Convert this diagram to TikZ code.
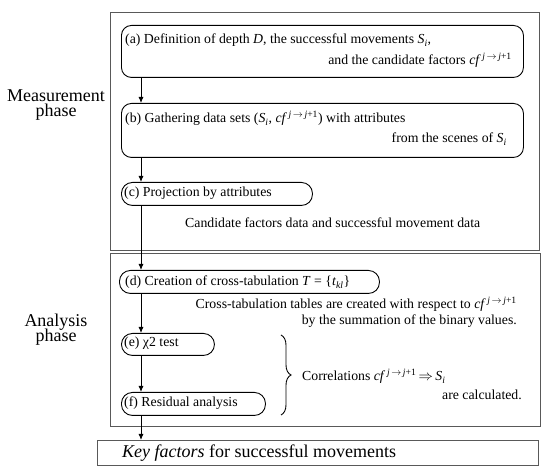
\documentclass[tikz,border=0pt]{standalone}
\usepackage{fontspec}
\setmainfont{Liberation Serif}
\usetikzlibrary{arrows.meta,decorations.pathreplacing}
\newcommand{\cfjj}{\textit{cf}\textsuperscript{\,\textit{j}\,$\rightarrow$\,\textit{j}+1}}
\newcommand{\Sind}{\textit{S}\textsubscript{\textit{i}}}
\begin{document}
\begin{tikzpicture}[x=1pt,y=-1pt,
  frame/.style={draw=black!65, line width=1.3pt, anchor=north west, inner sep=0pt},
  rbox/.style={draw, line width=0.9pt, rounded corners=10pt, anchor=north west, inner sep=0pt},
  pill/.style={draw, line width=0.9pt, rounded corners=11pt, anchor=north west, inner sep=0pt},
  txt/.style={font=\fontsize{13.8}{16}\selectfont, inner sep=0pt, anchor=base west},
  rtxt/.style={font=\fontsize{13.8}{16}\selectfont, inner sep=0pt, anchor=base east},
  big/.style={font=\fontsize{18}{20}\selectfont, inner sep=0pt, anchor=base},
  bigl/.style={font=\fontsize{18}{20}\selectfont, inner sep=0pt, anchor=base west},
  arr/.style={-{Latex[length=6pt,width=5pt]}, line width=0.9pt},
  brc/.style={decorate, decoration={brace, amplitude=10pt}, line width=0.9pt}]
\useasboundingbox (0,0) rectangle (550,473);
% frames
\node[frame, minimum width=429pt, minimum height=238pt] (meas) at (110,12) {};
\node[frame, minimum width=430pt, minimum height=173pt] (anal) at (110,253) {};
\node[frame, minimum width=441pt, minimum height=25pt] (key) at (97,440) {};
% phase labels
\node[big] (m1) at (56,102) {Measurement};
\node[big] (m2) at (56,117) {phase};
\node[big] (n1) at (56,327) {Analysis};
\node[big] (n2) at (56,342) {phase};
% step boxes
\node[rbox, minimum width=402pt, minimum height=52pt] (a) at (121,25) {};
\node[rbox, minimum width=402pt, minimum height=54pt] (b) at (121,103) {};
\node[pill, minimum width=191pt, minimum height=23pt] (c) at (121,182) {};
\node[pill, minimum width=260pt, minimum height=23pt] (d) at (119,270) {};
\node[pill, minimum width=93pt, minimum height=22pt] (e) at (121,333) {};
\node[pill, minimum width=144pt, minimum height=23pt] (f) at (121,392) {};
% texts
\node[txt] (a1) at (125,44) {(a) Definition of depth \textit{D}, the successful movements \Sind,};
\node[rtxt] (a2) at (512,65) {and the candidate factors \cfjj};
\node[txt] (b1) at (125,123) {(b) Gathering data sets (\Sind, \cfjj) with attributes};
\node[rtxt] (b2) at (507,143) {from the scenes of \Sind};
\node[txt] (c1) at (124,197) {(c) Projection by attributes};
\node[txt] (c2) at (185,228) {Candidate factors data and successful movement data};
\node[txt] (d1) at (125,286) {(d) Creation of cross-tabulation \textit{T} = \{\textit{t}\textsubscript{\textit{kl}}\}};
\node[rtxt] (d2) at (517,309) {Cross-tabulation tables are created with respect to \cfjj};
\node[rtxt] (d3) at (517,325) {by the summation of the binary values.};
\node[txt] (e1) at (124,347) {(e) χ2 test};
\node[txt] (f1) at (124,407) {(f) Residual analysis};
\node[txt] (g1) at (302,381) {Correlations \cfjj\,$\Rightarrow$\,\Sind};
\node[rtxt] (g2) at (522,400) {are calculated.};
\node[bigl] (k1) at (122,458) {\textit{Key factors} for successful movements};
% brace
\coordinate (bt) at (281,335);
\coordinate (bb) at (281,415);
\draw[brc] (bt) -- (bb);
% arrows
\coordinate (ax) at (141,0);
\draw[arr] (a.south -| ax) -- (b.north -| ax);
\draw[arr] (b.south -| ax) -- (c.north -| ax);
\draw[arr] (c.south -| ax) -- (d.north -| ax);
\draw[arr] (d.south -| ax) -- (e.north -| ax);
\draw[arr] (e.south -| ax) -- (f.north -| ax);
\draw[arr] (f.south -| ax) -- (key.north -| ax);
\end{tikzpicture}
\end{document}
